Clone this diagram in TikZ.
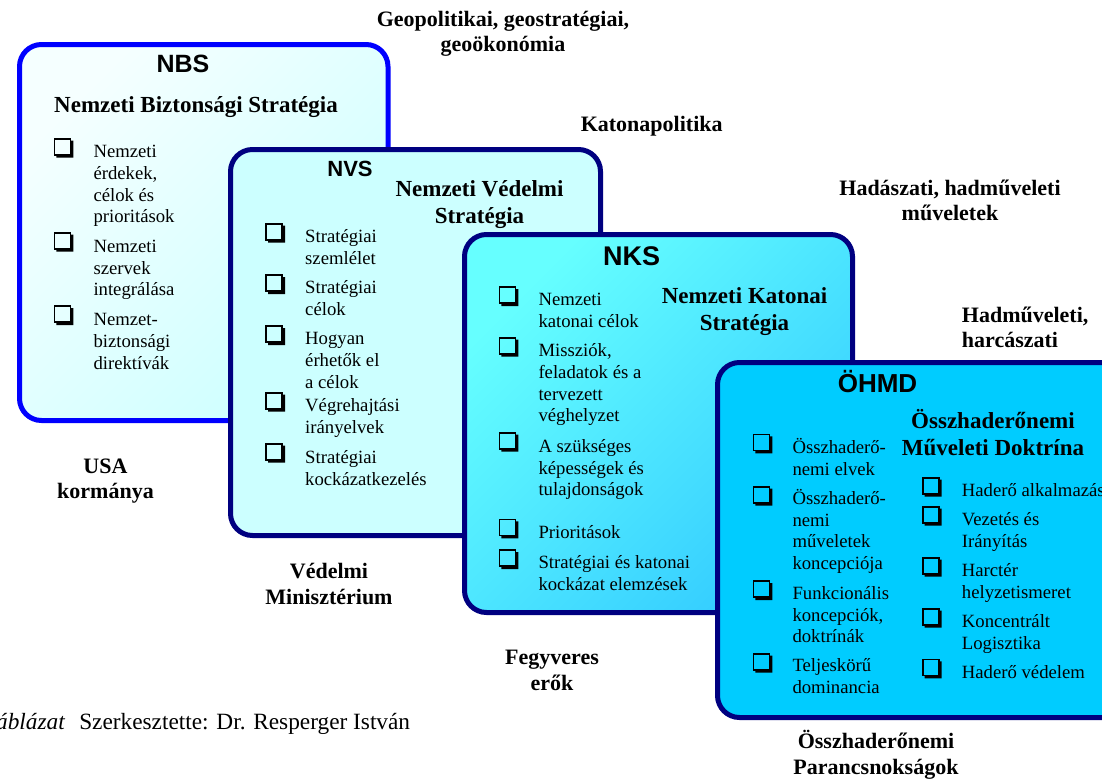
\documentclass[tikz,border=0pt]{standalone}
\usepackage{fontspec}
\setmainfont{Liberation Serif}
\newfontfamily\hdfont{Liberation Sans}
\definecolor{navyline}{RGB}{0,0,128}
\definecolor{nbstop}{RGB}{245,255,255}
\definecolor{nbsbot}{RGB}{204,255,255}
\definecolor{nvsfill}{RGB}{204,255,255}
\definecolor{nkstop}{RGB}{102,255,255}
\definecolor{nksbot}{RGB}{51,204,255}
\definecolor{ohmdfill}{RGB}{0,204,255}
\tikzset{
  box/.style={line width=5pt, rounded corners=22pt},
  hd/.style={anchor=base, inner sep=0pt, font=\hdfont\bfseries\fontsize{25}{30}\selectfont},
  ttl/.style={anchor=base, align=center, inner sep=0pt, font=\bfseries\fontsize{23}{26.7}\selectfont},
  lbl/.style={anchor=base, align=center, inner sep=0pt, font=\bfseries\fontsize{22}{25.3}\selectfont},
  item/.style={anchor=base west, align=left, inner sep=0pt, font=\fontsize{18.7}{21.6}\selectfont},
  chk/.pic={
    \draw[line width=1.6pt] (1,-19) rectangle (17,-3);
    \fill (3,-3) -- (17,-3) -- (17,-17) -- (20,-17) -- (20,0) -- (3,0) -- cycle;
  }
}
\begin{document}
\begin{tikzpicture}[x=1pt, y=-1pt]
      \useasboundingbox (0,0) rectangle (1102,782);
      \clip (0,0) rectangle (1102,782);

      \draw[box, draw=blue, top color=nbstop, bottom color=nbsbot, shading angle=45] (19.5,44.5) rectangle (388,420.5);
      \node[hd, at={(183,72.7)}] (nbs) {NBS};
      \node[ttl, at={(196,112.3)}] (nbstitle) {Nemzeti Biztonsági Stratégia};
      \pic at (53.3,157.7) {chk};
      \node[item, at={(93.3,222.7)}] (nbs1) {Nemzeti\\érdekek,\\célok és\\prioritások};
      \pic at (53.3,251.7) {chk};
      \node[item, at={(93.3,295.7)}] (nbs2) {Nemzeti\\szervek\\integrálása};
      \pic at (53.3,325) {chk};
      \node[item, at={(93.3,369)}] (nbs3) {Nemzet-\\biztonsági\\direktívák};

      \draw[box, draw=navyline, fill=nvsfill] (230.5,149.5) rectangle (600.5,535.5);
      \node[hd, font=\hdfont\bfseries\fontsize{22}{26}\selectfont, at={(350,176)}] (nvs) {NVS};
      \node[ttl, at={(479.5,223.3)}] (nvstitle) {Nemzeti Védelmi\\Stratégia};
      \pic at (265,242.7) {chk};
      \node[item, at={(305,264)}] (nvs1) {Stratégiai\\szemlélet};
      \pic at (265,294) {chk};
      \node[item, at={(305,315)}] (nvs2) {Stratégiai\\célok};
      \pic at (265,345) {chk};
      \node[item, at={(305,388)}] (nvs3) {Hogyan\\érhetők el\\a célok};
      \pic at (265,411.7) {chk};
      \node[item, at={(305,433.3)}] (nvs4) {Végrehajtási\\irányelvek};
      \pic at (265,462.7) {chk};
      \node[item, at={(305,485)}] (nvs5) {Stratégiai\\kockázatkezelés};

      \draw[box, draw=navyline, top color=nkstop, bottom color=nksbot, shading angle=45] (464.5,234.5) rectangle (852.5,612.5);
      \node[hd, font=\hdfont\bfseries\fontsize{27}{32}\selectfont, at={(631.7,265.7)}] (nks) {NKS};
      \node[ttl, at={(744.5,330)}] (nkstitle) {Nemzeti Katonai\\Stratégia};
      \pic at (498.3,306) {chk};
      \node[item, at={(538.3,327.3)}] (nks1) {Nemzeti\\katonai célok};
      \pic at (498.3,356.7) {chk};
      \node[item, at={(538.3,421.7)}] (nks2) {Missziók,\\feladatok és a\\tervezett\\véghelyzet};
      \pic at (498.3,451.7) {chk};
      \node[item, at={(538.3,495.7)}] (nks3) {A szükséges\\képességek és\\tulajdonságok};
      \pic at (498.3,538.3) {chk};
      \node[item, at={(538.3,538.3)}] (nks4) {Prioritások};
      \pic at (498.3,569) {chk};
      \node[item, at={(538.3,590)}] (nks5) {Stratégiai és katonai\\kockázat elemzések};

      \draw[box, draw=navyline, fill=ohmdfill] (717.5,362.5) rectangle (1130,717.5);
      \node[hd, font=\hdfont\bfseries\fontsize{26}{31}\selectfont, at={(877.5,392.3)}] (ohmd) {ÖHMD};
      \node[ttl, at={(993,455)}] (ohmdtitle) {Összhaderőnemi\\Műveleti Doktrína};
      \pic at (752.3,453.3) {chk};
      \node[item, at={(792.3,475)}] (ohmd1) {Összhaderő-\\nemi elvek};
      \pic at (752.3,505.7) {chk};
      \node[item, at={(792.3,569.3)}] (ohmd2) {Összhaderő-\\nemi\\műveletek\\koncepciója};
      \pic at (752.3,600) {chk};
      \node[item, at={(792.3,642.7)}] (ohmd3) {Funkcionális\\koncepciók,\\doktrínák};
      \pic at (752.3,672.7) {chk};
      \node[item, at={(792.3,693.3)}] (ohmd4) {Teljeskörű\\dominancia};
      \pic at (921.7,496.7) {chk};
      \node[item, at={(961.7,496.7)}] (ohmd5) {Haderő alkalmazás};
      \pic at (921.7,525.7) {chk};
      \node[item, at={(961.7,547.3)}] (ohmd6) {Vezetés és\\Irányítás};
      \pic at (921.7,576.7) {chk};
      \node[item, at={(961.7,598.3)}] (ohmd7) {Harctér\\helyzetismeret};
      \pic at (921.7,627.7) {chk};
      \node[item, at={(961.7,649.3)}] (ohmd8) {Koncentrált\\Logisztika};
      \pic at (921.7,678.3) {chk};
      \node[item, at={(961.7,678.3)}] (ohmd9) {Haderő védelem};

      \node[lbl, at={(503,51.7)}] (geo) {Geopolitikai, geostratégiai,\\geoökonómia};
      \node[lbl, at={(651.7,131.7)}] (katpol) {Katonapolitika};
      \node[lbl, at={(950,220.7)}] (hadasz) {Hadászati, hadműveleti\\műveletek};
      \node[lbl, anchor=base west, align=left, at={(961.7,347.3)}] (harcasz) {Hadműveleti,\\harcászati};
      \node[lbl, at={(105.5,498.3)}] (usa) {USA\\kormánya};
      \node[lbl, at={(329,604)}] (vm) {Védelmi\\Minisztérium};
      \node[lbl, at={(552,690)}] (ferok) {Fegyveres\\erők};
      \node[lbl, at={(876,774)}] (parancs) {Összhaderőnemi\\Parancsnokságok};

      \node[anchor=base west, inner sep=0pt, font=\fontsize{23.3}{28}\selectfont, at={(-4,729.3)}] (forras) {\textit{áblázat}\hspace{0.6em}Szerkesztette: Dr. Resperger István};
    \end{tikzpicture}
\end{document}
